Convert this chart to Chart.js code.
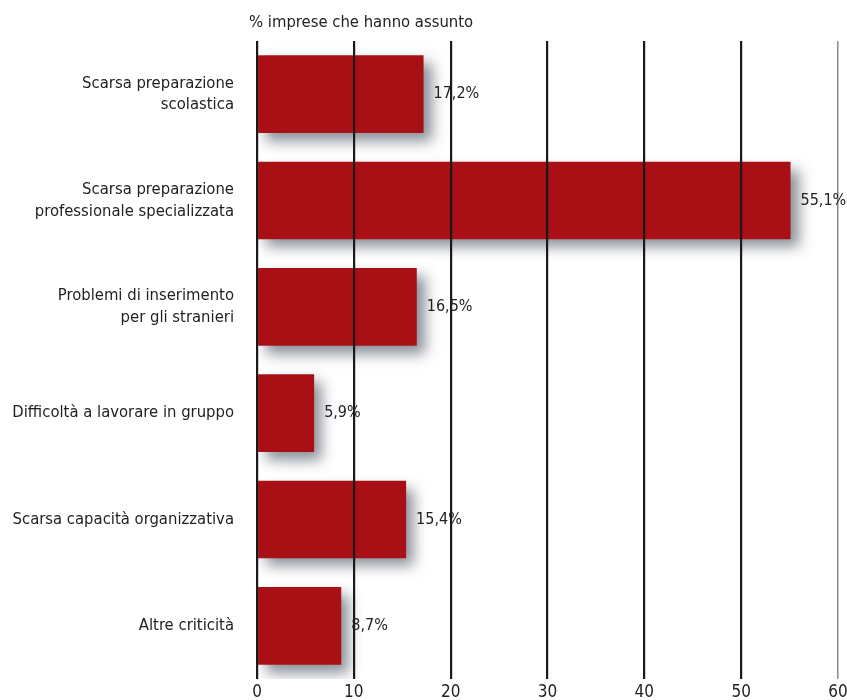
<!DOCTYPE html>
<html>
<head>
<meta charset="utf-8">
<script src="https://cdn.jsdelivr.net/npm/chart.js@4.4.1/dist/chart.umd.min.js"></script>
<style>
  html, body { margin: 0; padding: 0; background: #ffffff; }
  #wrap { width: 847px; height: 700px; position: relative; }
</style>
</head>
<body>
<div id="wrap"><canvas id="c"></canvas></div>
<script>
// Categories (two-line labels where the text wraps)
const categories = [
  ["Scarsa preparazione", "scolastica"],
  ["Scarsa preparazione", "professionale specializzata"],
  ["Problemi di inserimento", "per gli stranieri"],
  "Difficoltà a lavorare in gruppo",
  "Scarsa capacità organizzativa",
  "Altre criticità"
];
// Share of hiring firms reporting each issue (%)
const values = [17.2, 55.1, 16.5, 5.9, 15.4, 8.7];
const xTicks = [0, 10, 20, 30, 40, 50, 60];
const axisTitle = "% imprese che hanno assunto";

const FONT = "'Liberation Sans Narrow', 'DejaVu Sans Condensed', 'Roboto Condensed', sans-serif";
const fmt = v => v.toFixed(1).replace('.', ',') + '%';

// Soft drop shadow behind the bars
const barShadow = {
  id: 'barShadow',
  beforeDatasetsDraw(chart) {
    const ctx = chart.ctx;
    ctx.save();
    ctx.shadowColor = 'rgba(40,50,65,0.55)';
    ctx.shadowBlur = 13;
    ctx.shadowOffsetX = 8;
    ctx.shadowOffsetY = 8;
  },
  afterDatasetsDraw(chart) {
    chart.ctx.restore();
  }
};

// Value labels at the end of each bar and the axis caption above the plot
const labels = {
  id: 'labels',
  afterDraw(chart) {
    const ctx = chart.ctx;
    const meta = chart.getDatasetMeta(0);
    ctx.save();
    ctx.fillStyle = '#222';
    ctx.font = '16px ' + FONT;
    ctx.textBaseline = 'middle';
    ctx.textAlign = 'left';
    meta.data.forEach((bar, i) => {
      ctx.fillText(fmt(values[i]), bar.x + 10, bar.y);
    });
    ctx.font = '16.5px ' + FONT;
    ctx.textBaseline = 'alphabetic';
    ctx.fillText(axisTitle, chart.chartArea.left - 8, 27);
    ctx.restore();
  }
};

new Chart(document.getElementById('c'), {
  type: 'bar',
  data: {
    labels: categories,
    datasets: [{
      data: values,
      backgroundColor: '#a81016',
      borderWidth: 0,
      barPercentage: 0.73,
      categoryPercentage: 1
    }]
  },
  options: {
    indexAxis: 'y',
    responsive: true,
    maintainAspectRatio: false,
    animation: false,
    layout: { padding: { top: 41, right: 9, left: 0, bottom: 0 } },
    plugins: { legend: { display: false }, tooltip: { enabled: false } },
    scales: {
      x: {
        min: 0, max: 60,
        afterBuildTicks: s => { s.ticks = xTicks.map(v => ({ value: v })); },
        afterFit: s => { s.height = 21; s.paddingRight = 0; s.paddingLeft = 0; },
        grid: {
          z: 1,
          drawTicks: false,
          color: c => c.tick && c.tick.value === 60 ? '#8a8a8a' : '#1a1a1a',
          lineWidth: c => c.tick && c.tick.value === 60 ? 1.5 : 2.2
        },
        border: { display: false },
        ticks: {
          padding: 3,
          color: '#222',
          font: { family: FONT, size: 17 }
        }
      },
      y: {
        afterFit: s => { s.width = 257; s.paddingTop = 0; s.paddingBottom = 0; },
        grid: { display: false, drawTicks: false },
        border: { display: false },
        ticks: {
          padding: 23,
          color: '#222',
          font: { family: FONT, size: 16.5, lineHeight: 1.3 }
        }
      }
    }
  },
  plugins: [barShadow, labels]
});
</script>
</body>
</html>
